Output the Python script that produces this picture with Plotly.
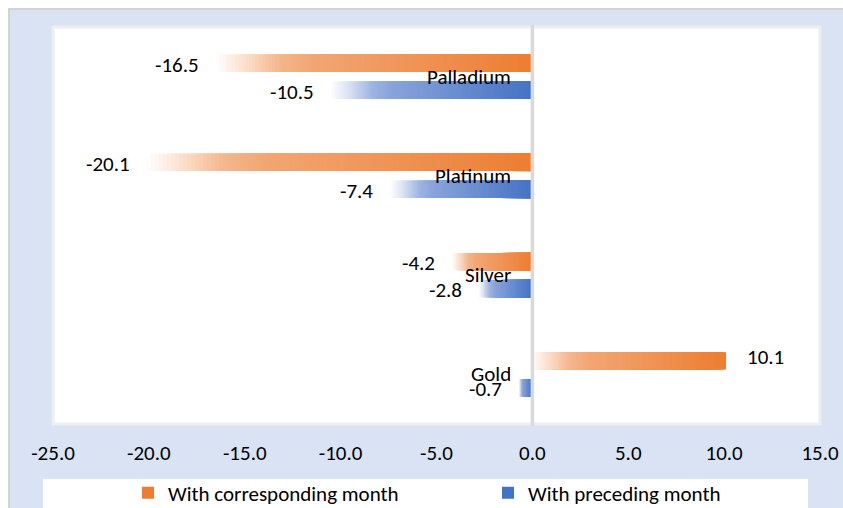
import plotly.graph_objects as go

# Change in precious metal prices (per cent)
metals = ["Gold", "Silver", "Platinum", "Palladium"]
with_corresponding_month = [10.1, -4.2, -20.1, -16.5]
with_preceding_month = [-0.7, -2.8, -7.4, -10.5]
series_names = ["With corresponding month", "With preceding month"]
x_ticks = [-25, -20, -15, -10, -5, 0, 5, 10, 15]

# Horizontal gradient stops, from a bar's left end (0) to its right end (1)
ORANGE_STOPS = [(0.0, "#fffdfb"), (0.08, "#fbe2cf"), (0.2, "#f4b58b"),
                (0.3, "#f2a674"), (1.0, "#ed7d31")]
BLUE_STOPS = [(0.0, "#fbfcfe"), (0.08, "#dbe3f4"), (0.2, "#9db4e1"),
              (0.3, "#88a3da"), (1.0, "#4472c4")]
STEPS = 96

FONT = "Carlito, Calibri, Lato, sans-serif"
FS = 21
W, H = 843, 508
L, R, T, B = 53, 23, 27, 84
PW, PH = W - L - R, H - T - B

# bar thickness and distance of each bar's centre from the category centre
BAR_W = 0.176
HALF_STEP = 0.136


def px_x(px):
    return (px - L) / PW


def px_y(py):
    return (H - B - py) / PH


def hex_rgb(c):
    c = c.lstrip("#")
    return tuple(int(c[i:i + 2], 16) for i in (0, 2, 4))


def blend(stops, t):
    for (t0, c0), (t1, c1) in zip(stops, stops[1:]):
        if t <= t1:
            f = (t - t0) / (t1 - t0) if t1 > t0 else 0
            a, b = hex_rgb(c0), hex_rgb(c1)
            r = [round(a[k] + (b[k] - a[k]) * f) for k in range(3)]
            return "rgb(%d,%d,%d)" % tuple(r)
    return stops[-1][1]


def gradient_bar(values, stops, name, offset):
    """Nested bars drawn longest first; each shorter bar covers the inner part,
    leaving a strip whose colour follows a left-to-right gradient."""
    ys, xs, cols = [], [], []
    for i in range(STEPS):
        frac = 1 - i / STEPS
        for cat, v in zip(metals, values):
            # strip position measured from the bar's left end
            t = i / STEPS if v < 0 else 1 - i / STEPS
            ys.append(cat)
            xs.append(v * frac)
            cols.append(blend(stops, t))
    return go.Bar(y=ys, x=xs, orientation="h", name=name, showlegend=False,
                  offset=offset, width=BAR_W,
                  marker=dict(color=cols, line=dict(width=0)),
                  hoverinfo="skip")


fig = go.Figure()
fig.add_trace(gradient_bar(with_corresponding_month, ORANGE_STOPS, series_names[0],
                           HALF_STEP - BAR_W / 2))
fig.add_trace(gradient_bar(with_preceding_month, BLUE_STOPS, series_names[1],
                           -HALF_STEP - BAR_W / 2))

# legend keys
for name, col, lg in [(series_names[0], "#ed7d31", "legend"),
                      (series_names[1], "#4472c4", "legend2")]:
    fig.add_trace(go.Bar(x=[0], y=[0], orientation="h", name=name, legend=lg,
                         xaxis="x2", yaxis="y2", hoverinfo="skip",
                         marker=dict(color=col, line=dict(width=0))))

annotations = []
for cat in metals:
    annotations.append(dict(x=0, y=cat, xref="x", yref="y", text=cat,
                            showarrow=False, xanchor="right", yanchor="middle",
                            xshift=-19, font=dict(family=FONT, size=FS, color="#000000")))
for values, shift in [(with_corresponding_month, 13.5), (with_preceding_month, -13.5)]:
    for cat, v in zip(metals, values):
        annotations.append(dict(x=v, y=cat, xref="x", yref="y", text="%.1f" % v,
                                showarrow=False,
                                xanchor="right" if v < 0 else "left",
                                xshift=-15 if v < 0 else 19,
                                yshift=shift - 1.5 if v < 0 else shift + 4,
                                font=dict(family=FONT, size=FS, color="#000000")))

shapes = [
    # white page margin with a grey edge around the chart panel
    dict(type="rect", xref="paper", yref="paper", x0=px_x(0), x1=px_x(W),
         y0=px_y(8), y1=px_y(0), fillcolor="white", line=dict(width=0), layer="below"),
    dict(type="rect", xref="paper", yref="paper", x0=px_x(0), x1=px_x(8),
         y0=px_y(H), y1=px_y(0), fillcolor="white", line=dict(width=0), layer="below"),
    dict(type="line", xref="paper", yref="paper", x0=px_x(8), x1=px_x(W),
         y0=px_y(9), y1=px_y(9), line=dict(color="#d3d3d3", width=2), layer="below"),
    dict(type="line", xref="paper", yref="paper", x0=px_x(9), x1=px_x(9),
         y0=px_y(8), y1=px_y(H), line=dict(color="#d3d3d3", width=2), layer="below"),
    # legend panel
    dict(type="rect", xref="paper", yref="paper", x0=px_x(43), x1=px_x(808),
         y0=px_y(H + 2), y1=px_y(479), fillcolor="white", line=dict(width=0), layer="below"),
    # plot area frame
    dict(type="rect", xref="paper", yref="paper", x0=0, x1=1, y0=0, y1=1,
         fillcolor="rgba(0,0,0,0)", line=dict(color="#eeeeee", width=3), layer="below"),
    # vertical axis at zero
    dict(type="line", xref="x", yref="paper", x0=0, x1=0, y0=-0.005, y1=1.005,
         line=dict(color="#d9d9d9", width=3.5), layer="above"),
]

legend_common = dict(orientation="h", xanchor="left", yanchor="middle", y=px_y(493),
                     bgcolor="rgba(0,0,0,0)",
                     font=dict(family=FONT, size=FS, color="#000000"))

fig.update_layout(
    width=W, height=H,
    margin=dict(l=L, r=R, t=T, b=B, pad=0, autoexpand=False),
    paper_bgcolor="#dae3f3",
    plot_bgcolor="white",
    barmode="overlay",
    font=dict(family=FONT, size=FS, color="#000000"),
    xaxis=dict(range=[-25, 15], tickvals=x_ticks,
               ticktext=["%.1f" % v for v in x_ticks],
               showgrid=False, zeroline=False, showline=False, ticks="",
               ticklabelstandoff=14, tickfont=dict(family=FONT, size=FS, color="#000000"),
               fixedrange=True),
    yaxis=dict(categoryorder="array", categoryarray=metals, showticklabels=False,
               showgrid=False, zeroline=False, showline=False, ticks="",
               range=[-0.5, len(metals) - 0.5], fixedrange=True),
    xaxis2=dict(overlaying="x", visible=False, range=[-1, 1]),
    yaxis2=dict(overlaying="y", visible=False, range=[-1, 1]),
    showlegend=True,
    legend=dict(x=px_x(128), **legend_common),
    legend2=dict(x=px_x(488), **legend_common),
    annotations=annotations,
    shapes=shapes,
)

fig.write_html("out.html")
